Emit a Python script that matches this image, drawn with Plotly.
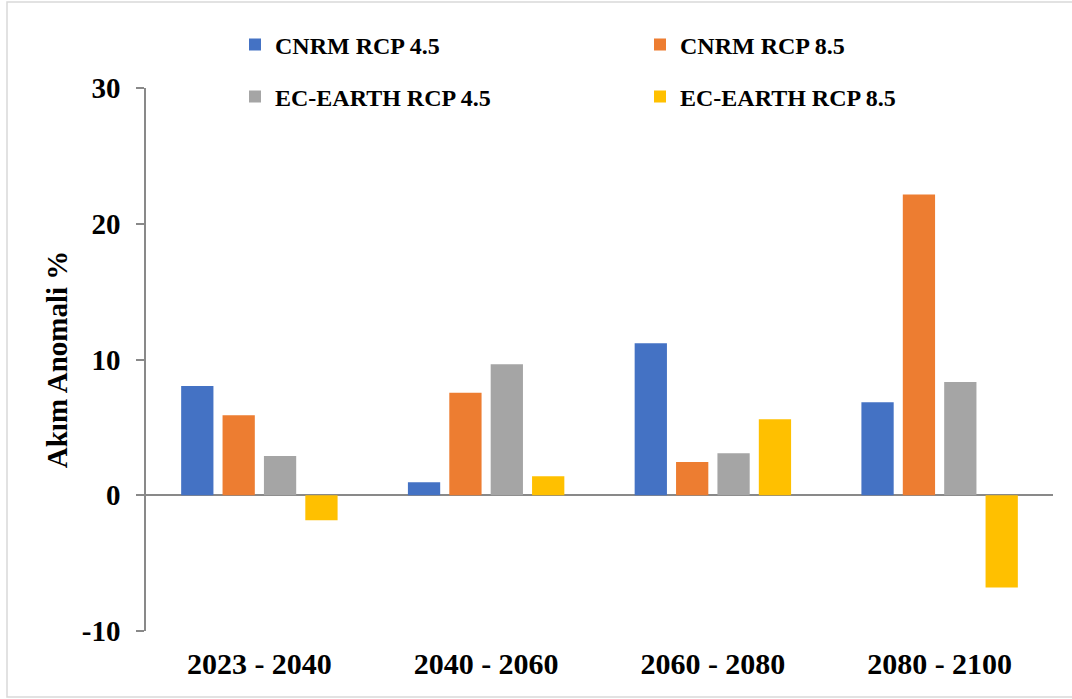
import plotly.graph_objects as go

# Flow anomaly (%) per period for each model / scenario
periods = ["2023 - 2040", "2040 - 2060", "2060 - 2080", "2080 - 2100"]
cnrm_45 = [8.05, 0.95, 11.2, 6.85]
cnrm_85 = [5.9, 7.55, 2.45, 22.15]
ecearth_45 = [2.9, 9.65, 3.1, 8.35]
ecearth_85 = [-1.85, 1.4, 5.6, -6.8]

series_names = ["CNRM RCP 4.5", "CNRM RCP 8.5", "EC-EARTH RCP 4.5", "EC-EARTH RCP 8.5"]
series_values = [cnrm_45, cnrm_85, ecearth_45, ecearth_85]
series_colors = ["#4472C4", "#ED7D31", "#A5A5A5", "#FFC000"]
series_legend = ["legend", "legend", "legend2", "legend2"]

y_ticks = [-10, 0, 10, 20, 30]
y_tick_labels = ["-10", "0", "10", "20", "30"]

FONT = "Liberation Serif"
AXIS_GRAY = "#898989"

fig = go.Figure()
for name, vals, color, leg in zip(series_names, series_values, series_colors, series_legend):
    fig.add_trace(go.Bar(
        x=periods, y=vals, name=name, legend=leg,
        marker=dict(color=color, line=dict(width=0)),
    ))

W, H = 1072, 699
L, R, T, B = 146, 19, 88, 68
pw, ph = W - L - R, H - T - B


def px_x(x):
    return (x - L) / pw


def px_y(y):
    return (H - B - y) / ph


legend_common = dict(
    orientation="h",
    xanchor="left", yanchor="middle",
    font=dict(family=FONT, size=24, color="black", weight="bold"),
    entrywidth=360, entrywidthmode="pixels",
    itemwidth=30, bgcolor="rgba(0,0,0,0)",
    traceorder="normal",
)

fig.update_layout(
    width=W, height=H,
    margin=dict(l=L, r=R, t=T, b=B),
    paper_bgcolor="white", plot_bgcolor="white",
    barmode="group", bargap=0.27, bargroupgap=0.22,
    font=dict(family=FONT, color="black"),
    legend=dict(x=px_x(235), y=px_y(45), **legend_common),
    legend2=dict(x=px_x(235), y=px_y(97), **legend_common),
    xaxis=dict(
        showline=False, showgrid=False, ticks="",
        tickfont=dict(family=FONT, size=30, color="black", weight="bold"),
        ticklabelstandoff=12,
    ),
    yaxis=dict(
        range=[-10, 30], tickmode="array", tickvals=y_ticks, ticktext=y_tick_labels,
        showgrid=False, showline=True, linecolor=AXIS_GRAY, linewidth=1.5,
        ticks="outside", ticklen=8, tickcolor=AXIS_GRAY, tickwidth=1.5,
        zeroline=True, zerolinecolor=AXIS_GRAY, zerolinewidth=2,
        tickfont=dict(family=FONT, size=29, color="black", weight="bold"),
        ticklabelstandoff=10,
        title=dict(text="Akım Anomali %", standoff=6,
                   font=dict(family=FONT, size=29, color="black", weight="bold")),
    ),
    shapes=[dict(
        type="rect", xref="paper", yref="paper",
        x0=px_x(7), x1=px_x(1080), y0=px_y(697), y1=px_y(2),
        line=dict(color="#D9D9D9", width=1.5), fillcolor="rgba(0,0,0,0)",
        layer="below",
    )],
    showlegend=True,
)

fig.write_html("out.html")
